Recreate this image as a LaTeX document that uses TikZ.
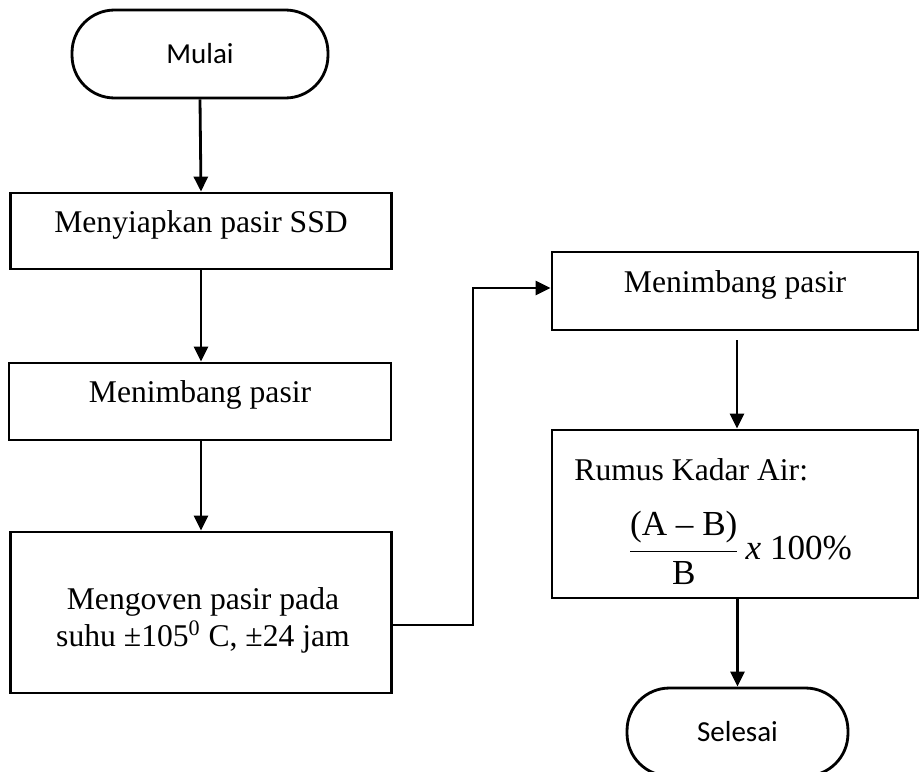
\documentclass[tikz,border=0pt]{standalone}
\usepackage{fontspec}
\setmainfont{Liberation Serif}
\newfontfamily\calibrifont{Carlito}
\usetikzlibrary{arrows.meta}
\begin{document}
\begin{tikzpicture}[x=0.02cm,y=-0.02cm,
  line width=1.6pt,
  box/.style={draw, rectangle, inner sep=0pt},
  term/.style={draw, rectangle, rounded corners=0.85cm, inner sep=0pt,
    minimum width=#1, minimum height=1.76cm,
    font=\calibrifont\fontsize{16.5}{19}\selectfont},
  txt/.style={inner sep=0pt, font=\fontsize{18}{22}\selectfont},
  flow/.style={-{Triangle[length=0.3cm,width=0.28cm]}}]
\useasboundingbox (0,0) rectangle (923,771);

% left column
\node[term=5.12cm] (start) at (200,54) {Mulai};
\node[box, minimum width=7.62cm, minimum height=1.52cm] (prep) at (201,231) {};
\node[txt] (preptxt) at (201,225) {Menyiapkan pasir SSD};
\node[box, minimum width=7.64cm, minimum height=1.54cm] (weigh1) at (200,401.5) {};
\node[txt] (weigh1txt) at (200,395) {Menimbang pasir};
\node[box, minimum width=7.62cm, minimum height=3.22cm] (oven) at (201,612.5) {};
\node[txt, align=center] (oventxt) at (203,620)
  {Mengoven pasir pada\\[-1pt] suhu ±105\textsuperscript{0} C, ±24 jam};

% right column
\node[box, minimum width=7.32cm, minimum height=1.56cm] (weigh2) at (735,291) {};
\node[txt] (weigh2txt) at (735,285) {Menimbang pasir};
\node[box, minimum width=7.32cm, minimum height=3.36cm] (calc) at (735,514) {};
\node[txt, anchor=west] (calctitle) at (573,470) {Rumus Kadar Air:};
\node[txt, font=\fontsize{20}{24}\selectfont] (formula) at (740,548)
  {$\displaystyle\frac{\mbox{(A – B)}}{\mbox{B}}\,\mbox{\textit{x} 100\%}$};
\node[term=4.42cm] (stop) at (737.5,732) {Selesai};

% connectors
\coordinate (bend1) at (473,625);
\coordinate (bend2) at (473,288);
\coordinate (calcin) at (737,340);
\draw[flow] (start.south) -- (prep.north);
\draw[flow] (prep.south) -- (weigh1.north -| prep.south);
\draw[flow] (weigh1.south -| prep.south) -- (oven.north);
\draw[flow] (oven.east |- bend1) -- (bend1) -- (bend2) -- (weigh2.west |- bend2);
\draw[flow] (calcin) -- (calc.north -| calcin);
\draw[flow] (calc.south -| stop.north) -- (stop.north);
\end{tikzpicture}
\end{document}
